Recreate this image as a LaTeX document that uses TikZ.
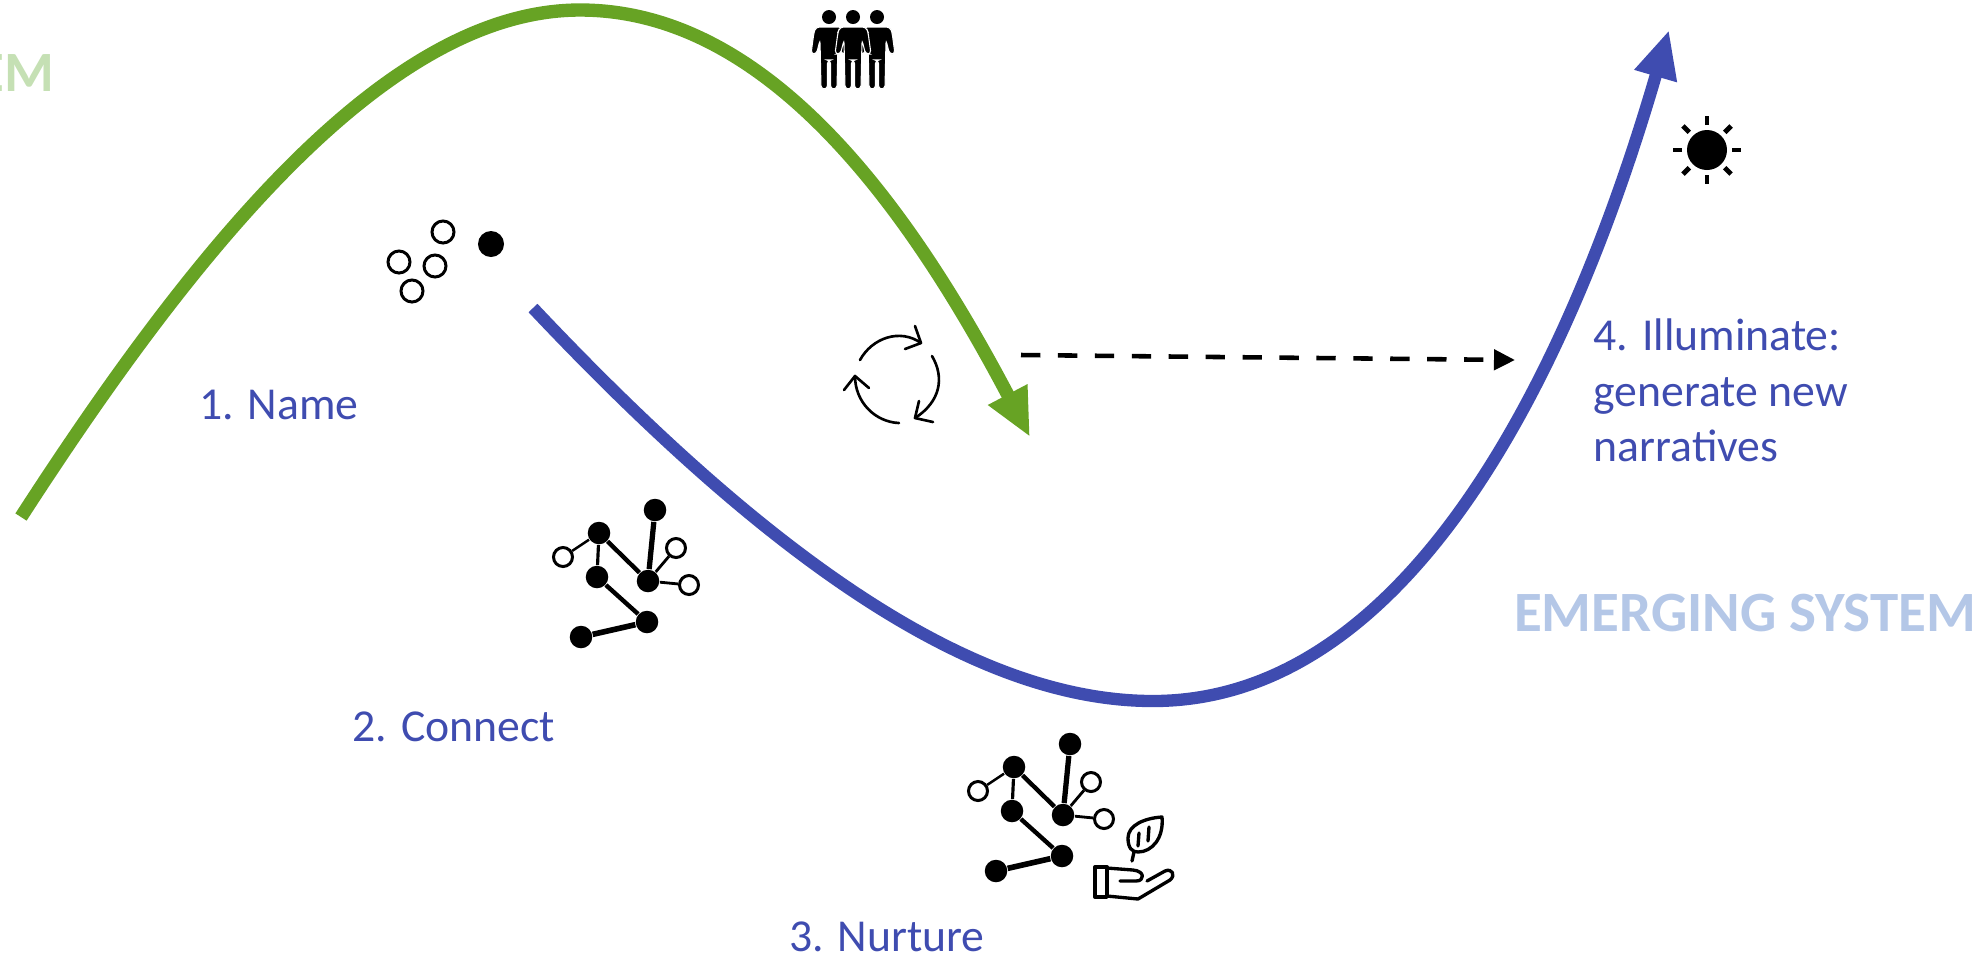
\documentclass[tikz,border=0pt]{standalone}
\usepackage{fontspec}
\setmainfont{Carlito}
\usetikzlibrary{arrows.meta}
\definecolor{stemgreen}{RGB}{103,163,36}
\definecolor{stemblue}{RGB}{63,76,176}
\definecolor{palegreen}{RGB}{197,224,180}
\definecolor{paleblue}{RGB}{180,199,231}
\tikzset{
  steplabel/.style={text=stemblue,font=\fontsize{13}{15.8}\selectfont,inner sep=0pt},
  systemlabel/.style={font=\fontsize{16.2}{18}\bfseries\selectfont,inner sep=0pt},
  fullnode/.style={circle,fill=black,minimum size=2.6mm,inner sep=0pt},
  smallnode/.style={circle,fill=black,minimum size=2.25mm,inner sep=0pt},
  opennode/.style={circle,draw=black,fill=white,line width=.85pt,minimum size=2.1mm,inner sep=0pt},
  iconline/.style={line width=.75pt,line cap=round,line join=round},
  handline/.style={line width=.95pt,line cap=round,line join=round},
  pics/netw/.style={code={
    \node[smallnode] (-top) at (92,-127) {};
    \node[smallnode] (-a) at (36,-104) {};
    \node[opennode,minimum size=1.9mm] (-l) at (0,-80) {};
    \node[smallnode] (-b) at (34,-60) {};
    \node[smallnode] (-c) at (85,-56) {};
    \node[opennode,minimum size=1.9mm] (-ra) at (113,-89) {};
    \node[opennode,minimum size=1.9mm] (-rb) at (126,-52) {};
    \node[smallnode] (-d) at (84,-15) {};
    \node[smallnode] (-e) at (18,0) {};
    \draw[line width=.7pt] (-a)--(-l);
    \draw[line width=.9pt] (-a)--(-b);
    \draw[line width=1.25pt] (-a)--(-c);
    \draw[line width=1.5pt] (-top)--(-c);
    \draw[line width=.8pt] (-c)--(-ra);
    \draw[line width=.8pt] (-c)--(-rb);
    \draw[line width=1.25pt] (-b)--(-d);
    \draw[line width=1.6pt] (-d)--(-e);
  }},
  pics/person/.style={code={
    \fill[black] (0,17) circle[radius=7];
    \fill[black,draw=white,line width=.3pt,rounded corners=1pt] (-13,27)--(13,27)--(15,32)--(18,54)--(12.5,54)--(9,40)--(8,89)--(1.5,89)--(1.5,60)--(-1.5,60)--(-1.5,89)--(-8,89)--(-9,40)--(-12.5,54)--(-18,54)--(-15,32)--cycle;
  }}
}
\begin{document}
\begin{tikzpicture}[x=.01cm,y=-.01cm]
\useasboundingbox (0,0) rectangle (1987,959);
\clip (0,0) rectangle (1987,959);
% the two main curves
\draw[line width=3.8pt,stemgreen,-{Triangle[length=4.8mm,width=4.1mm]}] (21,517) .. controls (200,240) and (390,10) .. (580,10) .. controls (760,10) and (900,190) .. (1030,437);
\draw[line width=3.5pt,stemblue,-{Triangle[length=4.8mm,width=4.1mm]}] (533,308) .. controls (780,570) and (980,701) .. (1153,701) .. controls (1410,701) and (1570,370) .. (1669,30);
% shift between systems
\coordinate (shiftstart) at (1021,355);
\coordinate (shiftend) at (1515,360);
\draw[line width=1.3pt,dash pattern=on 5.5pt off 5pt,-{Triangle[length=2.1mm,width=2mm]}] (shiftstart)--(shiftend);
% labels
\node[steplabel] (name) at (279,405) {1. Name};
\node[steplabel] (connect) at (454,727) {2. Connect};
\node[steplabel] (nurture) at (887,937) {3. Nurture};
\node[steplabel,anchor=north west,align=left] (illuminate) at (1593,318) {4. Illuminate:\\generate new\\narratives};
\node[systemlabel,text=paleblue] (emerging) at (1745,613) {EMERGING SYSTEM};
\node[systemlabel,text=palegreen,anchor=east] (old) at (55,73) {EM};
% people
\pic at (829,0) {person};
\pic at (877,0) {person};
\pic at (853,0) {person};
% seeds
\node[opennode,minimum size=2.2mm] (seeda) at (443,232) {};
\node[opennode,minimum size=2.2mm] (seedb) at (399,262) {};
\node[opennode,minimum size=2.2mm] (seedc) at (435,266) {};
\node[opennode,minimum size=2.2mm] (seedd) at (412,291) {};
\node[fullnode] (seede) at (491,244) {};
% networks
\pic (netone) at (563,637) {netw};
\pic (nettwo) at (978,871) {netw};
% cycle
\draw[iconline] (860,360) .. controls (872,338) and (900,328) .. (921,343);
\draw[iconline] (915,326)--(921,343)--(905,349);
\draw[iconline] (932,356) .. controls (945,378) and (940,402) .. (915,418);
\draw[iconline] (919,401)--(915,418)--(933,422);
\draw[iconline] (899,423) .. controls (875,422) and (855,402) .. (855,376);
\draw[iconline] (844,390)--(855,376)--(869,388);
% hand and leaf
\draw[handline] (1095,867) rectangle (1107,897);
\draw[handline] (1107,868)--(1133,870) .. controls (1145,871) and (1145,881) .. (1136,881)--(1120,881);
\draw[handline] (1107,896)--(1138,899)--(1170,880) .. controls (1176,875) and (1172,868) .. (1165,871)--(1147,881);
\draw[handline] (1162,817) .. controls (1145,818) and (1128,825) .. (1128,838) .. controls (1128,848) and (1132,852) .. (1138,852) .. controls (1152,852) and (1164,838) .. (1162,817)--cycle;
\draw[handline] (1134,852)--(1132,861);
\draw[handline] (1139,833)--(1138,846);
\draw[handline] (1149,827)--(1148,841);
% sun
\fill[black] (1707,150) circle[radius=20];
\foreach \a in {0,45,...,315}
\draw[line width=1.4pt] (1707,150)++(\a:25)--++(\a:9);
\end{tikzpicture}
\end{document}
